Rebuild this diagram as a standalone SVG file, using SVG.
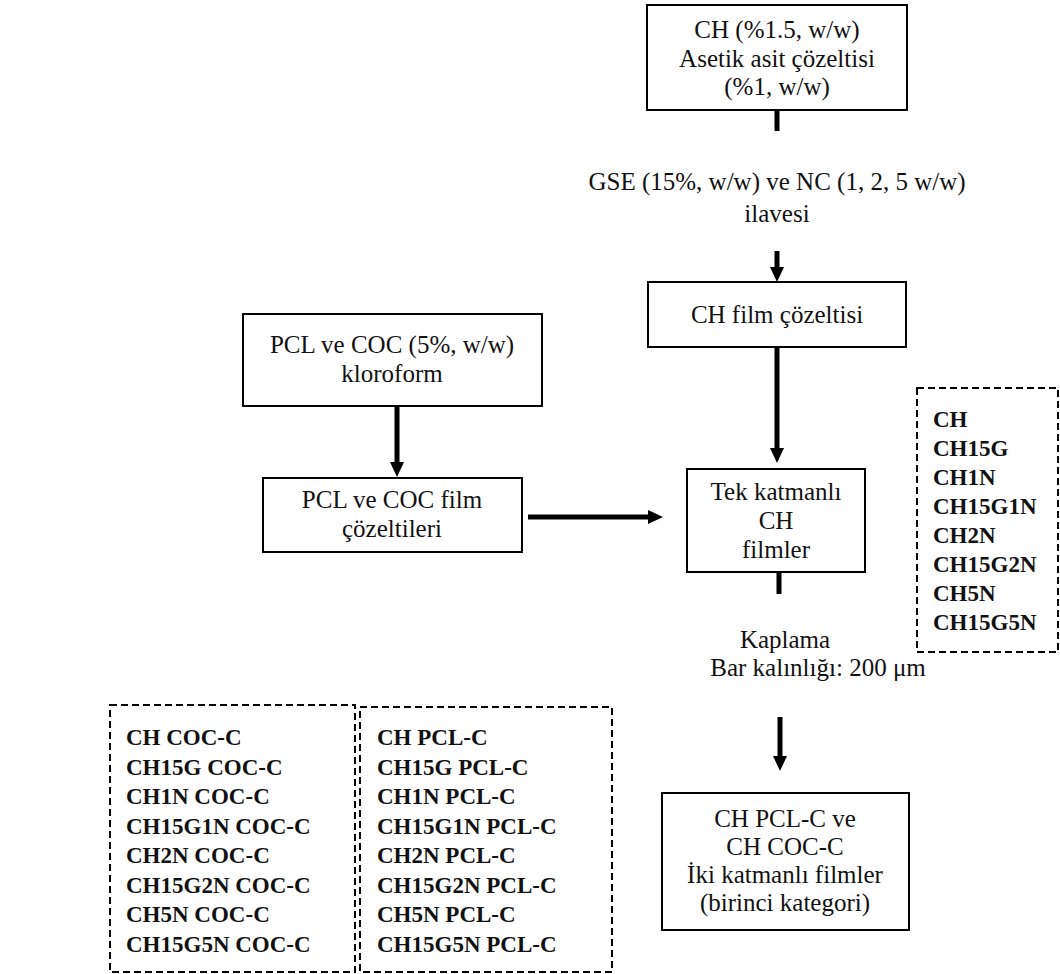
<svg xmlns="http://www.w3.org/2000/svg" width="1060" height="974" viewBox="0 0 1060 974">
<defs>
<style>
.box{fill:#fff;stroke:#000;stroke-width:2}
.dash{fill:none;stroke:#000;stroke-width:2;stroke-dasharray:7 4}
.t{font-family:"Liberation Serif","DejaVu Serif",serif;font-size:25px;fill:#111;text-anchor:middle}
.b{font-family:"Liberation Serif","DejaVu Serif",serif;font-size:23px;font-weight:bold;fill:#111}
.c{stroke:#000;stroke-width:5;fill:none}
</style>
<marker id="ah" markerUnits="userSpaceOnUse" markerWidth="15" markerHeight="14" refX="0" refY="7" orient="auto">
<path d="M0,0 L15,7 L0,14 z" fill="#000"/>
</marker>
</defs>
<rect width="1060" height="974" fill="#fff"/>

<g id="connectors">
<line class="c" x1="777" y1="110" x2="777" y2="131"/>
<line class="c" x1="777" y1="251" x2="777" y2="267" marker-end="url(#ah)"/>
<line class="c" x1="777" y1="347" x2="777" y2="448" marker-end="url(#ah)"/>
<line class="c" x1="779" y1="572" x2="779" y2="594"/>
<line class="c" x1="780" y1="717" x2="780" y2="756" marker-end="url(#ah)"/>
<line class="c" x1="397" y1="406" x2="397" y2="462" marker-end="url(#ah)"/>
<line class="c" x1="528" y1="517" x2="648" y2="517" marker-end="url(#ah)"/>
</g>

<g id="n-ch">
<rect class="box" x="647" y="5" width="260" height="105"/>
<text class="t" x="777" y="38">CH (%1.5, w/w)</text>
<text class="t" x="777" y="67">Asetik asit çözeltisi</text>
<text class="t" x="777" y="95">(%1, w/w)</text>
</g>

<g id="n-gse">
<text class="t" x="777" y="190">GSE (15%, w/w) ve NC (1, 2, 5 w/w)</text>
<text class="t" x="777" y="222">ilavesi</text>
</g>

<g id="n-chfilm">
<rect class="box" x="648" y="282" width="258" height="65"/>
<text class="t" x="777" y="323">CH film çözeltisi</text>
</g>

<g id="n-pcl">
<rect class="box" x="243" y="314" width="299" height="92"/>
<text class="t" x="392" y="353">PCL ve COC (5%, w/w)</text>
<text class="t" x="392" y="382">kloroform</text>
</g>

<g id="n-pclfilm">
<rect class="box" x="263" y="478" width="259" height="74"/>
<text class="t" x="392" y="508">PCL ve COC film</text>
<text class="t" x="392" y="537">çözeltileri</text>
</g>

<g id="n-tek">
<rect class="box" x="687" y="469" width="178" height="103"/>
<text class="t" x="776" y="500">Tek katmanlı</text>
<text class="t" x="776" y="529">CH</text>
<text class="t" x="776" y="558">filmler</text>
</g>

<g id="n-list1">
<rect class="dash" x="917" y="388" width="141" height="264"/>
<text class="b" x="933" y="427">CH</text>
<text class="b" x="933" y="456">CH15G</text>
<text class="b" x="933" y="485">CH1N</text>
<text class="b" x="933" y="514">CH15G1N</text>
<text class="b" x="933" y="543">CH2N</text>
<text class="b" x="933" y="572">CH15G2N</text>
<text class="b" x="933" y="601">CH5N</text>
<text class="b" x="933" y="630">CH15G5N</text>
</g>

<g id="n-kaplama">
<text class="t" x="785" y="648">Kaplama</text>
<text class="t" x="818" y="676">Bar kalınlığı: 200 μm</text>
</g>

<g id="n-final">
<rect class="box" x="662" y="793" width="247" height="137"/>
<text class="t" x="785" y="827">CH PCL-C ve</text>
<text class="t" x="785" y="855">CH COC-C</text>
<text class="t" x="785" y="883">İki katmanlı filmler</text>
<text class="t" x="785" y="911">(birinci kategori)</text>
</g>

<g id="n-coc">
<rect class="dash" x="110" y="705" width="245" height="267"/>
<text class="b" x="126" y="745">CH COC-C</text>
<text class="b" x="126" y="774.5">CH15G COC-C</text>
<text class="b" x="126" y="804">CH1N COC-C</text>
<text class="b" x="126" y="833.5">CH15G1N COC-C</text>
<text class="b" x="126" y="863">CH2N COC-C</text>
<text class="b" x="126" y="892.5">CH15G2N COC-C</text>
<text class="b" x="126" y="922">CH5N COC-C</text>
<text class="b" x="126" y="951.5">CH15G5N COC-C</text>
</g>

<g id="n-pclc">
<rect class="dash" x="360" y="707" width="252" height="265"/>
<text class="b" x="377" y="745">CH PCL-C</text>
<text class="b" x="377" y="774.5">CH15G PCL-C</text>
<text class="b" x="377" y="804">CH1N PCL-C</text>
<text class="b" x="377" y="833.5">CH15G1N PCL-C</text>
<text class="b" x="377" y="863">CH2N PCL-C</text>
<text class="b" x="377" y="892.5">CH15G2N PCL-C</text>
<text class="b" x="377" y="922">CH5N PCL-C</text>
<text class="b" x="377" y="951.5">CH15G5N PCL-C</text>
</g>
</svg>
